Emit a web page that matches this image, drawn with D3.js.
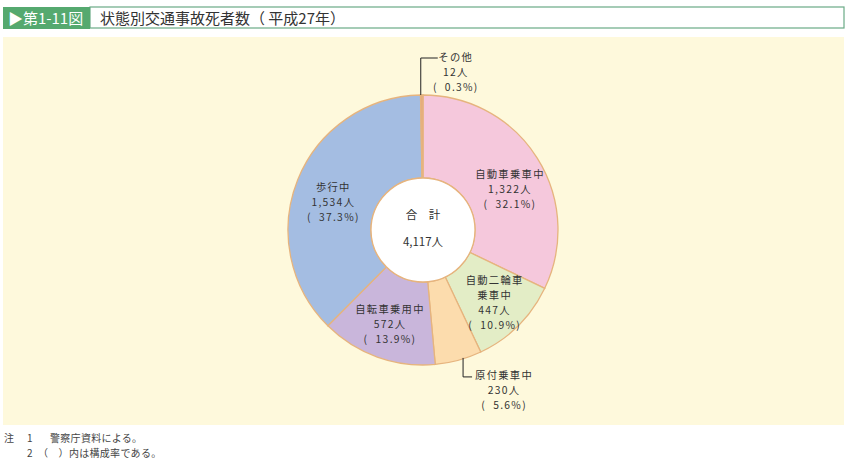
<!DOCTYPE html>
<html><head><meta charset="utf-8">
<script src="https://cdn.jsdelivr.net/npm/d3@7"></script>
<style>
html,body{margin:0;padding:0;background:#fff;}
svg{display:block;font-family:"Noto Sans CJK JP","Noto Sans",sans-serif;}
</style></head>
<body>
<svg id="c" width="855" height="469"></svg>
<script>
const categories = ["自動車乗車中","自動二輪車乗車中","原付乗車中","自転車乗用中","歩行中","その他"];
const labelLines = [["自動車乗車中"],["自動二輪車","乗車中"],["原付乗車中"],["自転車乗用中"],["歩行中"],["その他"]];
const values = [1322, 447, 230, 572, 1534, 12];
const percents = ["32.1%","10.9%","5.6%","13.9%","37.3%","0.3%"];
const totalLabel = "4,117人";
const title = "状態別交通事故死者数（ 平成27年）";
const figNo = "▶第1-11図";
const notes = [["注","1","警察庁資料による。"],["","2","（　）内は構成率である。"]];

const colors = ["#f5c8dc","#e3edc6","#fcdcad","#c9b6db","#a4bde2","#e6a97c"];
const labelLayout = [
  {dx:7, dy:11},
  {dx:5, dy:7},
  {leader:"bottom"},
  {dx:-1, dy:6},
  {dx:-2, dy:8},
  {leader:"top"}
];

const svg = d3.select("#c");
svg.append("rect").attr("x",90).attr("y",7).attr("width",754).attr("height",21)
  .attr("fill","#fff").attr("stroke","#6aaa86").attr("stroke-width",1.2);
svg.append("rect").attr("x",3).attr("y",7).attr("width",87).attr("height",22).attr("fill","#55a96f");
svg.append("text").attr("x",8).attr("y",23.5).attr("fill","#fff").attr("font-size",15).text(figNo);
svg.append("text").attr("x",100).attr("y",23.5).attr("fill","#333").attr("font-size",15).text(title);
svg.append("rect").attr("x",3).attr("y",37).attr("width",841).attr("height",388).attr("fill","#fef9dc");

const cx = 423, cy = 230, R = 135, r0 = 52;
const g = svg.append("g").attr("transform",`translate(${cx},${cy})`);
const pie = d3.pie().sort(null).value(d=>d)(values);
const arc = d3.arc().innerRadius(r0).outerRadius(R);
g.selectAll("path.s").data(pie).join("path").attr("class","s")
  .attr("d",arc).attr("fill",(d,i)=>colors[i]).attr("stroke","#e6b47e").attr("stroke-width",1.3);
g.append("circle").attr("r",r0).attr("fill","#fff").attr("stroke","#e6b47e").attr("stroke-width",1.3);
g.append("text").attr("x",0).attr("y",-14).attr("text-anchor","middle").attr("font-size",11.5)
  .attr("fill","#333").attr("dominant-baseline","middle").text("合　計");
g.append("text").attr("x",0).attr("y",13).attr("text-anchor","middle").attr("font-size",11.5)
  .attr("fill","#333").attr("dominant-baseline","middle").text(totalLabel);

const mid = d3.arc().innerRadius((r0+R)/2+1).outerRadius((r0+R)/2+1);
const lh = 15;
function block(x, y, lines){
  const n = lines.length;
  lines.forEach((t,k)=>{
    g.append("text").attr("x",x).attr("y",y + (k-(n-1)/2)*lh)
      .attr("text-anchor","middle").attr("dominant-baseline","middle")
      .attr("font-size",10.3).attr("letter-spacing",1.3).attr("fill","#333")
      .attr("xml:space","preserve").style("white-space","pre").text(t);
  });
}
pie.forEach((d,i)=>{
  const lines = labelLines[i].concat([d3.format(",")(values[i])+"人","(  "+percents[i]+")"]);
  const L = labelLayout[i];
  if(!L.leader){
    const c = mid.centroid(d);
    block(c[0]+L.dx, c[1]+L.dy, lines);
  } else if(L.leader==="top"){
    const a = (d.startAngle+d.endAngle)/2;
    const x0 = R*Math.sin(a)-1, y0 = -R*Math.cos(a);
    const yTop = y0 - 37;
    g.append("path").attr("d",`M${x0},${y0}V${yTop}H${x0+17}`).attr("fill","none").attr("stroke","#222").attr("stroke-width",1);
    block(x0+35, yTop+15, lines);
  } else {
    const a = d.startAngle + (d.endAngle-d.startAngle)*0.4;
    const x0 = R*Math.sin(a), y0 = -R*Math.cos(a)-1;
    const yBot = y0 + 19;
    g.append("path").attr("d",`M${x0},${y0}V${yBot}H${x0+9}`).attr("fill","none").attr("stroke","#222").attr("stroke-width",1);
    block(x0+41, yBot+14, lines);
  }
});

const noteX = [4, 27, 50];
notes.forEach((row,k)=>{
  row.forEach((t,j)=>{
    const x = (k===1 && j===2) ? 38 : noteX[j];
    svg.append("text").attr("x",x).attr("y",442+k*15).attr("font-size",10).attr("fill","#444")
      .attr("letter-spacing",0.3).attr("xml:space","preserve").text(t);
  });
});
</script>
</body></html>
